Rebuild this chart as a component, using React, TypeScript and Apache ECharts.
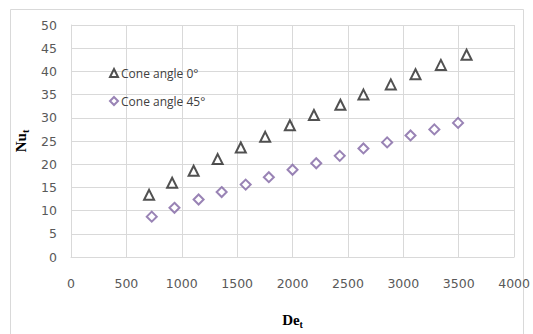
import React, { useEffect, useRef } from "react";
import * as echarts from "echarts";

const xTicks = [0, 500, 1000, 1500, 2000, 2500, 3000, 3500, 4000];
const yTicks = [0, 5, 10, 15, 20, 25, 30, 35, 40, 45, 50];

const cone0X = [705, 913, 1107, 1324, 1533, 1753, 1976, 2193, 2432, 2640, 2887, 3110, 3339, 3571];
const cone0Y = [13.4, 16.0, 18.6, 21.1, 23.6, 25.9, 28.4, 30.6, 32.8, 35.0, 37.2, 39.4, 41.4, 43.6];

const cone45X = [729, 934, 1152, 1360, 1577, 1786, 2000, 2214, 2426, 2640, 2854, 3065, 3280, 3494];
const cone45Y = [8.7, 10.6, 12.4, 14.0, 15.6, 17.2, 18.8, 20.2, 21.8, 23.4, 24.7, 26.2, 27.5, 28.9];

const seriesNames = ["Cone angle 0°", "Cone angle 45°"];

export default function App() {
  const ref = useRef<HTMLDivElement>(null);
  useEffect(() => {
    if (!ref.current) return;
    const chart = echarts.init(ref.current, null, { renderer: "svg" });
    const labelStyle = {
      color: "#595959",
      fontFamily: "DejaVu Sans",
      fontSize: 12.5,
    };
    const nameRich = {
      a: { fontFamily: "Liberation Serif", fontWeight: "bold", fontSize: 15, color: "#000" },
      b: { fontFamily: "Liberation Serif", fontWeight: "bold", fontSize: 10, color: "#000", verticalAlign: "bottom", padding: [8, 0, 0, 0] },
    };
    chart.setOption({
      animation: false,
      backgroundColor: "#ffffff",
      graphic: [
        {
          type: "rect",
          shape: { x: 10.5, y: 9.5, width: 513, height: 340 },
          style: { fill: "none", stroke: "#d9d9d9", lineWidth: 1 },
          silent: true,
        },
      ],
      legend: {
        orient: "vertical",
        left: 104,
        top: 62,
        itemGap: 16,
        itemWidth: 8,
        itemHeight: 8,
        data: seriesNames,
        textStyle: { color: "#404040", fontFamily: "Open Sans", fontSize: 12, padding: [0, 0, 0, -2] },
      },
      grid: { left: 71, right: 14, top: 25, bottom: 74, containLabel: false },
      xAxis: {
        type: "value",
        min: xTicks[0],
        max: xTicks[xTicks.length - 1],
        interval: 500,
        name: "{a|De}{b|t}",
        nameLocation: "middle",
        nameGap: 54,
        nameTextStyle: { rich: nameRich },
        axisLine: { show: true, lineStyle: { color: "#d9d9d9" } },
        axisTick: { show: false },
        splitLine: { show: true, lineStyle: { color: "#d9d9d9" } },
        axisLabel: { ...labelStyle, margin: 20, formatter: (v: number) => String(v) },
      },
      yAxis: {
        type: "value",
        min: yTicks[0],
        max: yTicks[yTicks.length - 1],
        interval: 5,
        name: "{a|Nu}{b|t}",
        nameLocation: "middle",
        nameGap: 30,
        nameRotate: 90,
        nameTextStyle: { rich: nameRich },
        axisLine: { show: true, lineStyle: { color: "#d9d9d9" } },
        axisTick: { show: false },
        splitLine: { show: true, lineStyle: { color: "#d9d9d9" } },
        axisLabel: { ...labelStyle, margin: 14, formatter: (v: number) => String(v) },
      },
      series: [
        {
          name: seriesNames[0],
          type: "scatter",
          symbol: "emptyTriangle",
          symbolSize: [10, 10],
          itemStyle: { color: "#262626", borderColor: "#262626", borderWidth: 1.3 },
          data: cone0X.map((x, i) => [x, cone0Y[i]]),
        },
        {
          name: seriesNames[1],
          type: "scatter",
          symbol: "emptyDiamond",
          symbolSize: [10, 10],
          itemStyle: { color: "#8064a2", borderColor: "#8064a2", borderWidth: 1.3 },
          data: cone45X.map((x, i) => [x, cone45Y[i]]),
        },
      ],
    });
    return () => chart.dispose();
  }, []);
  return <div ref={ref} style={{ width: 533, height: 334, position: "absolute", left: 0, top: 0 }} />;
}
